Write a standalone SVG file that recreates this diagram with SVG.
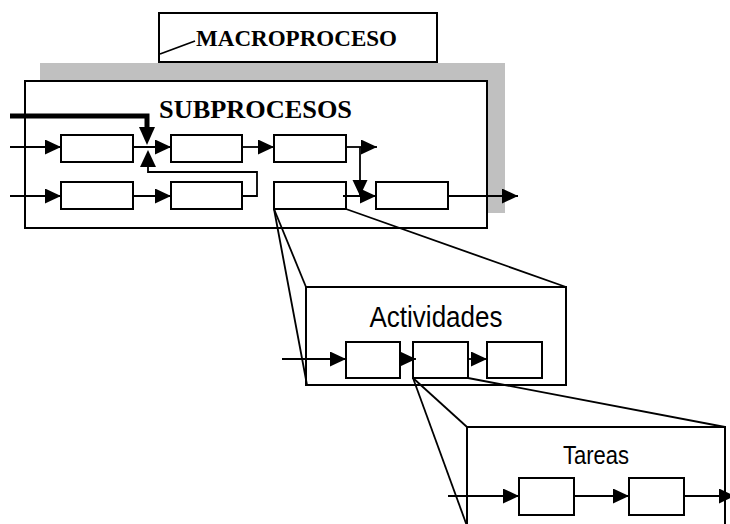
<svg xmlns="http://www.w3.org/2000/svg" width="730" height="524" viewBox="0 0 730 524">
<style>
.box{fill:#fff;stroke:#000;stroke-width:2}
.ln{fill:none;stroke:#000;stroke-width:1.8}
.serif{font-family:"Liberation Serif","Times New Roman",serif;font-weight:bold}
.sans{font-family:"Liberation Sans",Arial,sans-serif}
</style>
<defs>
<marker id="ah" markerUnits="userSpaceOnUse" markerWidth="18" markerHeight="18" refX="16" refY="7.5" orient="auto">
<path d="M0,0 L16,7.5 L0,15 z" fill="#000"/>
</marker>
</defs>
<rect width="730" height="524" fill="#fff"/>
<g id="macroproceso">
<rect class="box" x="159" y="13" width="278" height="49"/>
<line class="ln" x1="160" y1="54" x2="195" y2="41"/>
<text class="serif" x="196" y="46" font-size="23" textLength="201" lengthAdjust="spacingAndGlyphs">MACROPROCESO</text>
</g>
<g id="subprocesos">
<rect x="40" y="63" width="465" height="150" fill="#c0c0c0"/>
<rect class="box" x="25" y="81" width="462" height="147"/>
<text class="serif" x="159" y="118" font-size="26" textLength="193" lengthAdjust="spacingAndGlyphs">SUBPROCESOS</text>
</g>
<g id="sp-r1-1"><rect class="box" x="61" y="135" width="72" height="27"/></g>
<g id="sp-r1-2"><rect class="box" x="171" y="135" width="71" height="27"/></g>
<g id="sp-r1-3"><rect class="box" x="274" y="135" width="72" height="27"/></g>
<g id="sp-r2-1"><rect class="box" x="61" y="182" width="72" height="27"/></g>
<g id="sp-r2-2"><rect class="box" x="171" y="182" width="71" height="27"/></g>
<g id="sp-r2-3"><rect class="box" x="274" y="182" width="72" height="27"/></g>
<g id="sp-r2-4"><rect class="box" x="376" y="182" width="72" height="27"/></g>
<g id="actividades">
<rect class="box" x="306" y="287" width="260" height="98"/>
<text class="sans" x="436" y="327" font-size="29" text-anchor="middle" textLength="133" lengthAdjust="spacingAndGlyphs">Actividades</text>
</g>
<g id="act-1"><rect class="box" x="346" y="342" width="54" height="36"/></g>
<g id="act-2"><rect class="box" x="413" y="342" width="55" height="36"/></g>
<g id="act-3"><rect class="box" x="487" y="342" width="55" height="36"/></g>
<g id="tareas">
<path class="box" d="M467,530 L467,427 L725,427 L725,530" fill="#fff"/>
<text class="sans" x="596" y="464" font-size="25" text-anchor="middle" textLength="66" lengthAdjust="spacingAndGlyphs">Tareas</text>
</g>
<g id="tar-1"><rect class="box" x="519" y="478" width="55" height="37"/></g>
<g id="tar-2"><rect class="box" x="629" y="478" width="55" height="37"/></g>
<g id="connectors">
<line class="ln" x1="10" y1="147" x2="61" y2="147" marker-end="url(#ah)"/>
<line class="ln" x1="133" y1="147" x2="171" y2="147" marker-end="url(#ah)"/>
<polyline fill="none" stroke="#000" stroke-width="5" points="10,116 147,116 147,130"/>
<path d="M139,127 L155,127 L147,145 z" fill="#000"/>
<polyline class="ln" points="242,196 257,196 257,172 148,172 148,166"/>
<path d="M140,167 L156,167 L148,150 z" fill="#000"/>
<line class="ln" x1="242" y1="147" x2="274" y2="147" marker-end="url(#ah)"/>
<line class="ln" x1="346" y1="147" x2="377" y2="147" marker-end="url(#ah)"/>
<line class="ln" x1="360" y1="147" x2="360" y2="196" marker-end="url(#ah)"/>
<line class="ln" x1="10" y1="196" x2="61" y2="196" marker-end="url(#ah)"/>
<line class="ln" x1="133" y1="196" x2="171" y2="196" marker-end="url(#ah)"/>
<line class="ln" x1="343" y1="196" x2="376" y2="196" marker-end="url(#ah)"/>
<line class="ln" x1="448" y1="196" x2="518" y2="196" marker-end="url(#ah)"/>
<line class="ln" x1="274" y1="209" x2="306" y2="287"/>
<line class="ln" x1="274" y1="209" x2="307" y2="385"/>
<line class="ln" x1="346" y1="209" x2="566" y2="287"/>
<line class="ln" x1="413" y1="378" x2="467" y2="427"/>
<line class="ln" x1="413" y1="378" x2="467" y2="526"/>
<line class="ln" x1="468" y1="378" x2="725" y2="427"/>
<line class="ln" x1="282" y1="359" x2="346" y2="359" marker-end="url(#ah)"/>
<line class="ln" x1="400" y1="359" x2="416" y2="359" marker-end="url(#ah)"/>
<line class="ln" x1="468" y1="359" x2="487" y2="359" marker-end="url(#ah)"/>
<line class="ln" x1="448" y1="496" x2="519" y2="496" marker-end="url(#ah)"/>
<line class="ln" x1="574" y1="496" x2="629" y2="496" marker-end="url(#ah)"/>
<line class="ln" x1="684" y1="496" x2="735" y2="496" marker-end="url(#ah)"/>
</g>
</svg>
